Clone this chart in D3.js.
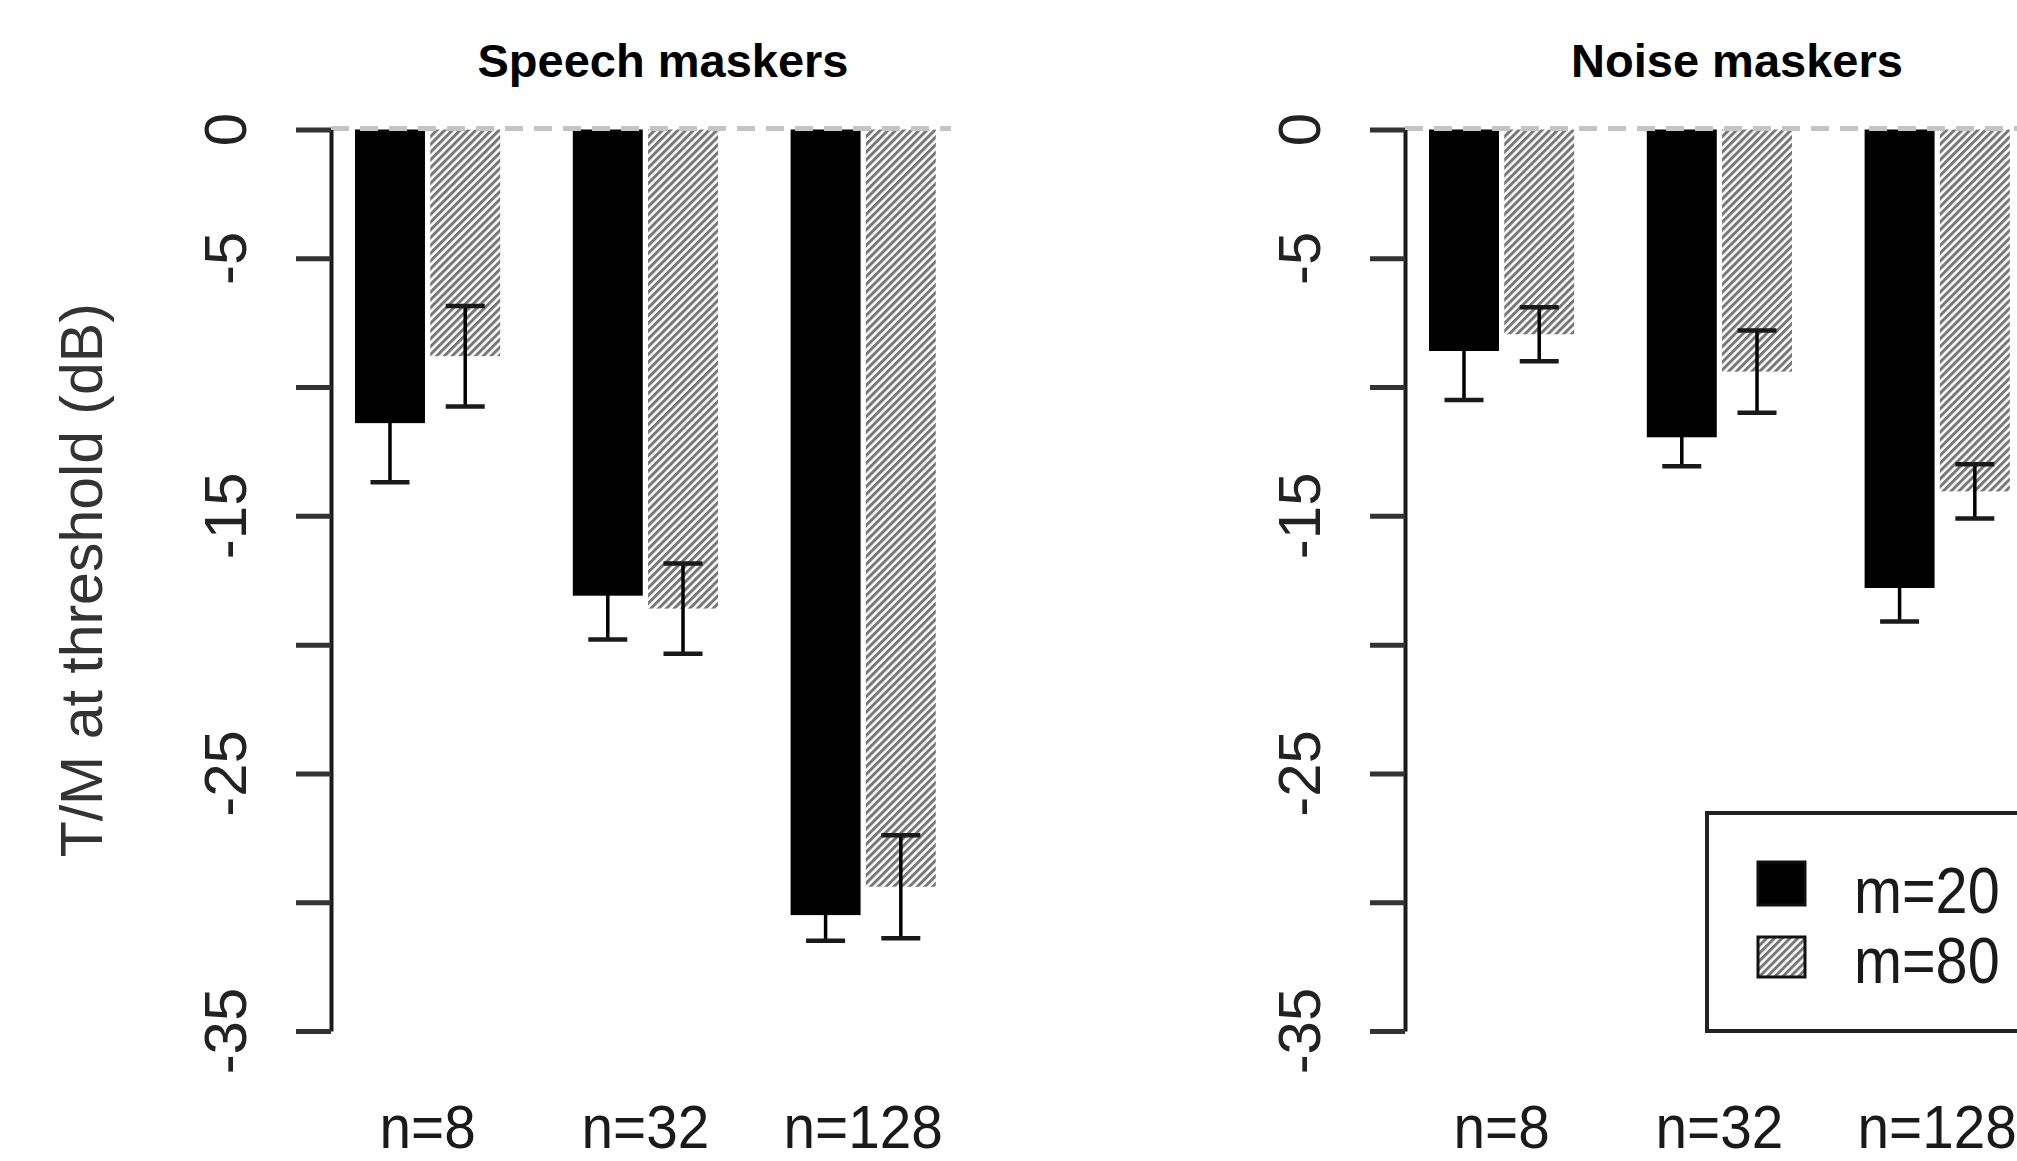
<!DOCTYPE html>
<html>
<head>
<meta charset="utf-8">
<script src="https://cdnjs.cloudflare.com/ajax/libs/d3/7.8.5/d3.min.js"></script>
<style>
  html, body { margin: 0; padding: 0; background: #fff; overflow: hidden; }
  svg { display: block; }
  text { font-family: "Liberation Sans", Arial, Helvetica, sans-serif; fill: #111; }
</style>
</head>
<body>
<svg id="chart" width="2017" height="1161"></svg>
<script>
// ---------------- data ----------------
const categories = ["n=8", "n=32", "n=128"];
const seriesNames = ["m=20", "m=80"];
const panelTitles = ["Speech maskers", "Noise maskers"];

const speechM20 = [-11.4, -18.1, -30.5];
const speechM80 = [-8.8, -18.6, -29.4];
const speechM20Err = [2.3, 1.7, 1.0];
const speechM80Err = [1.95, 1.75, 2.0];

const noiseM20 = [-8.6, -11.95, -17.8];
const noiseM80 = [-7.95, -9.4, -14.05];
const noiseM20Err = [1.9, 1.12, 1.3];
const noiseM80Err = [1.05, 1.6, 1.05];

const yTicks = [0, -5, -10, -15, -20, -25, -30, -35];
const yTickLabels = ["0", "-5", "", "-15", "", "-25", "", "-35"];
const yAxisTitle = "T/M at threshold (dB)";

// ---------------- layout ----------------
const svg = d3.select("#chart");
const FONT = "'Liberation Sans', Arial, Helvetica, sans-serif";

const y = d3.scaleLinear().domain([0, -35]).range([129.5, 1031]);

// pattern for hatched bars
const defs = svg.append("defs");
const pat = defs.append("pattern")
  .attr("id", "hatch")
  .attr("patternUnits", "userSpaceOnUse")
  .attr("width", 5.5).attr("height", 5.5)
  .attr("patternTransform", "rotate(45)");
pat.append("rect").attr("width", 5.5).attr("height", 5.5).attr("fill", "#ffffff");
pat.append("line").attr("x1", 1.5).attr("y1", 0).attr("x2", 1.5).attr("y2", 5.5)
  .attr("stroke", "#777").attr("stroke-width", 3);

const panels = [
  { axisX: 331, title: panelTitles[0], m20: speechM20, m80: speechM80, e20: speechM20Err, e80: speechM80Err, legend: false, yTitle: true },
  { axisX: 1405, title: panelTitles[1], m20: noiseM20, m80: noiseM80, e20: noiseM20Err, e80: noiseM80Err, legend: true, yTitle: false }
];

const barUnit = 72.6;

panels.forEach(p => {
  const g = svg.append("g");
  const x0 = d3.scaleBand()
    .domain(categories)
    .range([p.axisX + 24, p.axisX + 24 + 8 * barUnit])
    .paddingInner(1 / 3)
    .paddingOuter(0);
  const x1 = d3.scaleBand()
    .domain(seriesNames)
    .range([0, x0.bandwidth()])
    .paddingInner(0.07)
    .paddingOuter(0);

  const rows = categories.map((c, i) => ({
    cat: c,
    vals: [
      { s: seriesNames[0], v: p.m20[i], e: p.e20[i] },
      { s: seriesNames[1], v: p.m80[i], e: p.e80[i] }
    ]
  }));

  const grp = g.selectAll("g.grp").data(rows).enter().append("g")
    .attr("class", "grp")
    .attr("transform", d => `translate(${x0(d.cat)},0)`);

  const barAttrs = sel => sel
    .attr("x", d => x1(d.s))
    .attr("y", y(0))
    .attr("width", x1.bandwidth())
    .attr("height", d => y(d.v) - y(0));

  // hatched bars (m=80) first
  grp.selectAll("rect.hb").data(d => d.vals.filter(v => v.s === seriesNames[1])).enter()
    .append("rect").attr("class", "hb").call(barAttrs).attr("fill", "url(#hatch)");

  // error bars
  const cap = 39;
  const cx = d => x1(d.s) + x1.bandwidth() / 2;
  const eb = grp.selectAll("g.eb").data(d => d.vals).enter().append("g").attr("class", "eb");
  eb.append("line")
    .attr("x1", cx).attr("x2", cx)
    .attr("y1", d => y(d.v + d.e))
    .attr("y2", d => y(d.v - d.e))
    .attr("stroke", "#000").attr("stroke-width", 3.5);
  eb.append("line")
    .attr("x1", d => cx(d) - cap / 2).attr("x2", d => cx(d) + cap / 2)
    .attr("y1", d => y(d.v - d.e)).attr("y2", d => y(d.v - d.e))
    .attr("stroke", "#1a1a1a").attr("stroke-width", 4.5);
  eb.append("line")
    .attr("x1", d => cx(d) - cap / 2).attr("x2", d => cx(d) + cap / 2)
    .attr("y1", d => y(d.v + d.e)).attr("y2", d => y(d.v + d.e))
    .attr("stroke", "#1a1a1a").attr("stroke-width", 4.5);

  // solid black bars (m=20) on top: they hide the inner half of their error bars
  grp.selectAll("rect.bb").data(d => d.vals.filter(v => v.s === seriesNames[0])).enter()
    .append("rect").attr("class", "bb").call(barAttrs).attr("fill", "#000");

  // dashed zero line
  g.append("line")
    .attr("x1", p.axisX).attr("x2", p.axisX + 620)
    .attr("y1", y(0) - 1).attr("y2", y(0) - 1)
    .attr("stroke", "#c4c4c4").attr("stroke-width", 5)
    .attr("stroke-dasharray", "18,11");

  // y axis
  const axis = d3.axisLeft(y).tickValues(yTicks).tickSize(35).tickSizeOuter(0).tickFormat(() => "");
  const ag = g.append("g").attr("transform", `translate(${p.axisX},0)`).call(axis);
  ag.select(".domain").attr("stroke", "#1a1a1a").attr("stroke-width", 4);
  ag.selectAll(".tick line").attr("stroke", "#333").attr("stroke-width", 5);

  // y tick labels (rotated, parallel to axis)
  g.selectAll("text.ytl").data(yTicks).enter().append("text")
    .attr("class", "ytl")
    .attr("transform", d => `translate(${p.axisX - 85},${y(d)}) rotate(-90)`)
    .attr("text-anchor", "middle")
    .style("font-family", FONT)
    .style("font-size", "60px")
    .style("fill", "#222")
    .text((d, i) => yTickLabels[i]);

  // y axis title (left panel only)
  if (p.yTitle) {
    g.append("text")
      .attr("transform", `translate(${p.axisX - 229},${(y(0) + y(-35)) / 2}) rotate(-90)`)
      .attr("text-anchor", "middle")
      .style("font-family", FONT)
      .style("font-size", "59px")
      .style("fill", "#333")
      .text(yAxisTitle);
  }

  // panel title
  g.append("text")
    .attr("x", p.axisX + 332).attr("y", 77)
    .attr("text-anchor", "middle")
    .style("font-family", FONT)
    .style("font-size", "47px")
    .style("font-weight", "bold")
    .style("fill", "#000")
    .text(p.title);

  // category labels
  g.selectAll("text.xl").data(categories).enter().append("text")
    .attr("class", "xl")
    .attr("transform", d => `translate(${x0(d) + x0.bandwidth() / 2},1148) scale(0.93,1)`)
    .attr("text-anchor", "middle")
    .style("font-family", FONT)
    .style("font-size", "61px")
    .style("fill", "#1a1a1a")
    .text(d => d);

  // legend
  if (p.legend) {
    const lg = g.append("g");
    lg.append("rect")
      .attr("x", 1707).attr("y", 813)
      .attr("width", 400).attr("height", y(-35) - 813)
      .attr("fill", "#fff").attr("stroke", "#222").attr("stroke-width", 4);
    const items = lg.selectAll("g.li").data(seriesNames).enter().append("g")
      .attr("class", "li")
      .attr("transform", (d, i) => `translate(1758,${i === 0 ? 862 : 937})`);
    items.append("rect")
      .attr("width", 47).attr("height", (d, i) => i === 0 ? 43 : 40)
      .attr("fill", (d, i) => i === 0 ? "#000" : "url(#hatch)")
      .attr("stroke", "#111").attr("stroke-width", 3);
    items.append("text")
      .attr("transform", (d, i) => `translate(96,${i === 0 ? 51 : 46}) scale(0.9,1)`)
      .style("font-family", FONT)
      .style("font-size", "64px")
      .style("fill", "#1a1a1a")
      .text(d => d);
  }
});
</script>
</body>
</html>
